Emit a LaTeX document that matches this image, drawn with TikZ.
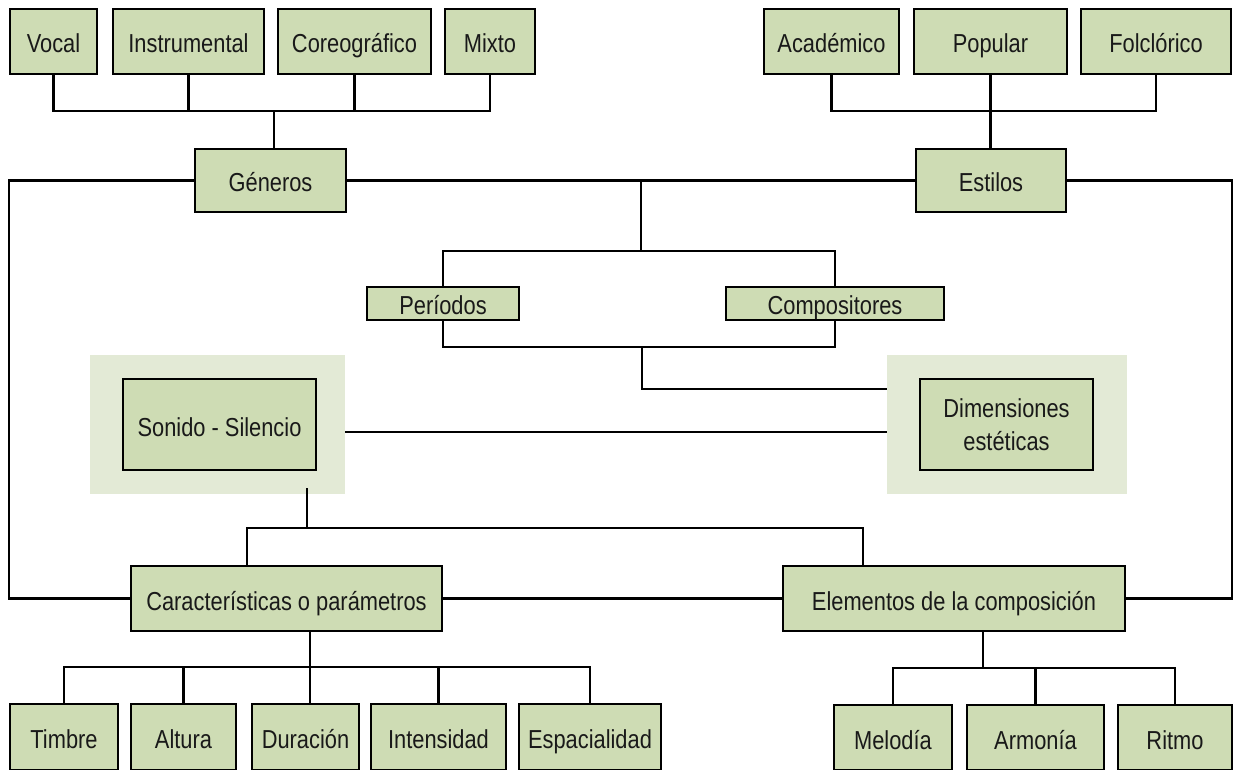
\documentclass[tikz,border=0pt]{standalone}
\usepackage{fontspec}
\setmainfont{Liberation Sans}[FakeStretch=0.84]
\definecolor{boxgreen}{RGB}{206,220,180}
\definecolor{bggreen}{RGB}{227,234,214}
\newcommand\mkbox[7][]{%
  \node[box, #1, minimum width={#5-#3-2}, minimum height={#6-#4-2}] (#2) at ({(#3+#5)/2},{(#4+#6)/2}) {#7};}
\begin{document}
\begin{tikzpicture}[x=1pt,y=-1pt,
  box/.style={draw=black, fill=boxgreen, line width=2.8pt, inner sep=0pt,
    font=\fontsize{26}{33}\selectfont, align=center, text=black!90,
    text height=24pt, text depth=1pt},
  twoline/.style={text height=, text depth=},
  bgbox/.style={fill=bggreen, inner sep=0pt, draw=none},
  link/.style={line width=2.7pt, draw=black}]
\fill[white] (0,0) rectangle (1235,770);
\useasboundingbox (0,0) rectangle (1235,770);
\clip (0,0) rectangle (1235,770);
% background panels
\node[bgbox, minimum width=255, minimum height=139] (sonbg) at (217.5,424.5) {};
\node[bgbox, minimum width=240, minimum height=139] (dimbg) at (1007,424.5) {};
% boxes
\mkbox{vocal}{9}{8}{98}{75}{Vocal}
\mkbox{instr}{112}{8}{265}{75}{Instrumental}
\mkbox{coreo}{277}{8}{432}{75}{Coreográfico}
\mkbox{mixto}{444}{8}{536}{75}{Mixto}
\mkbox{acad}{763}{8}{900}{75}{Académico}
\mkbox{popular}{913}{8}{1068}{75}{Popular}
\mkbox{folk}{1080}{8}{1232}{75}{Folclórico}
\mkbox{generos}{194}{148}{347}{213}{Géneros}
\mkbox{estilos}{915}{148}{1067}{213}{Estilos}
\mkbox[text height=22pt]{periodos}{366}{286}{520}{321}{Períodos}
\mkbox[text height=22pt]{compos}{725}{286}{945}{321}{Compositores}
\mkbox{sonido}{122}{378}{317}{471}{Sonido - Silencio}
\mkbox[twoline]{dimens}{919}{378}{1094}{471}{Dimensiones\\estéticas}
\mkbox{caract}{130}{565}{443}{632}{Características o parámetros}
\mkbox{elem}{782}{565}{1126}{632}{Elementos de la composición}
\mkbox{timbre}{9}{703}{119}{771}{Timbre}
\mkbox{altura}{130}{703}{237}{771}{Altura}
\mkbox{duracion}{251}{703}{360}{771}{Duración}
\mkbox{intens}{370}{703}{507}{771}{Intensidad}
\mkbox{espac}{518}{703}{662}{771}{Espacialidad}
\mkbox{melodia}{833}{704}{953}{771}{Melodía}
\mkbox{armonia}{966}{704}{1105}{771}{Armonía}
\mkbox{ritmo}{1117}{704}{1233}{771}{Ritmo}
% coordinates
\coordinate (gbar) at (274,111);
\coordinate (ebar) at (992,111);
\coordinate (mx) at (641,0);
\coordinate (pbar1) at (641,251);
\coordinate (pbar2) at (642,347);
\coordinate (sbar) at (307,528);
\coordinate (cdrop) at (247,528);
\coordinate (edrop) at (863,528);
\coordinate (lx) at (9,400);
\coordinate (rx) at (1232,400);
\coordinate (cb) at (310,667);
\coordinate (eb) at (983,668);
% top-left tree
\draw[link] (vocal.south) |- (gbar) -| (mixto.south);
\draw[link] (instr.south) -- (instr.south |- gbar);
\draw[link] (coreo.south) -- (coreo.south |- gbar);
\draw[link] (gbar) -- (gbar |- generos.north);
% top-right tree
\draw[link] (acad.south) |- (ebar) -| (folk.south);
\draw[link] (popular.south) -- (popular.south |- estilos.north);
% middle
\draw[link] (generos.east) -- (estilos.west);
\draw[link] (mx |- generos.east) -- (pbar1);
\draw[link] (periodos.north) |- (pbar1) -| (compos.north);
\draw[link] (periodos.south) |- (pbar2) -| (compos.south);
\draw[link] (pbar2) |- ([yshift=35.5pt]dimbg.west);
\draw[link] ([yshift=-7.5pt]sonbg.east) -- ([yshift=-7.5pt]dimbg.west);
\draw[link, shorten <=-6pt] (sbar |- sonbg.south) -- (sbar);
\draw[link] (cdrop |- caract.north) |- (edrop) -- (edrop |- elem.north);
\draw[link] (caract.east) -- (elem.west);
% outer loops
\draw[link] (generos.west) -| (lx) |- (caract.west);
\draw[link] (estilos.east) -| (rx) |- (elem.east);
% bottom-left tree
\draw[link] (cb |- caract.south) -- (cb);
\draw[link] (timbre.north) |- (cb) -| (espac.north);
\draw[link] (altura.north) -- (altura.north |- cb);
\draw[link] (cb) -- (cb |- duracion.north);
\draw[link] (intens.north) -- (intens.north |- cb);
% bottom-right tree
\draw[link] (eb |- elem.south) -- (eb);
\draw[link] (melodia.north) |- (eb) -| (ritmo.north);
\draw[link] (armonia.north) -- (armonia.north |- eb);
\end{tikzpicture}
\end{document}
